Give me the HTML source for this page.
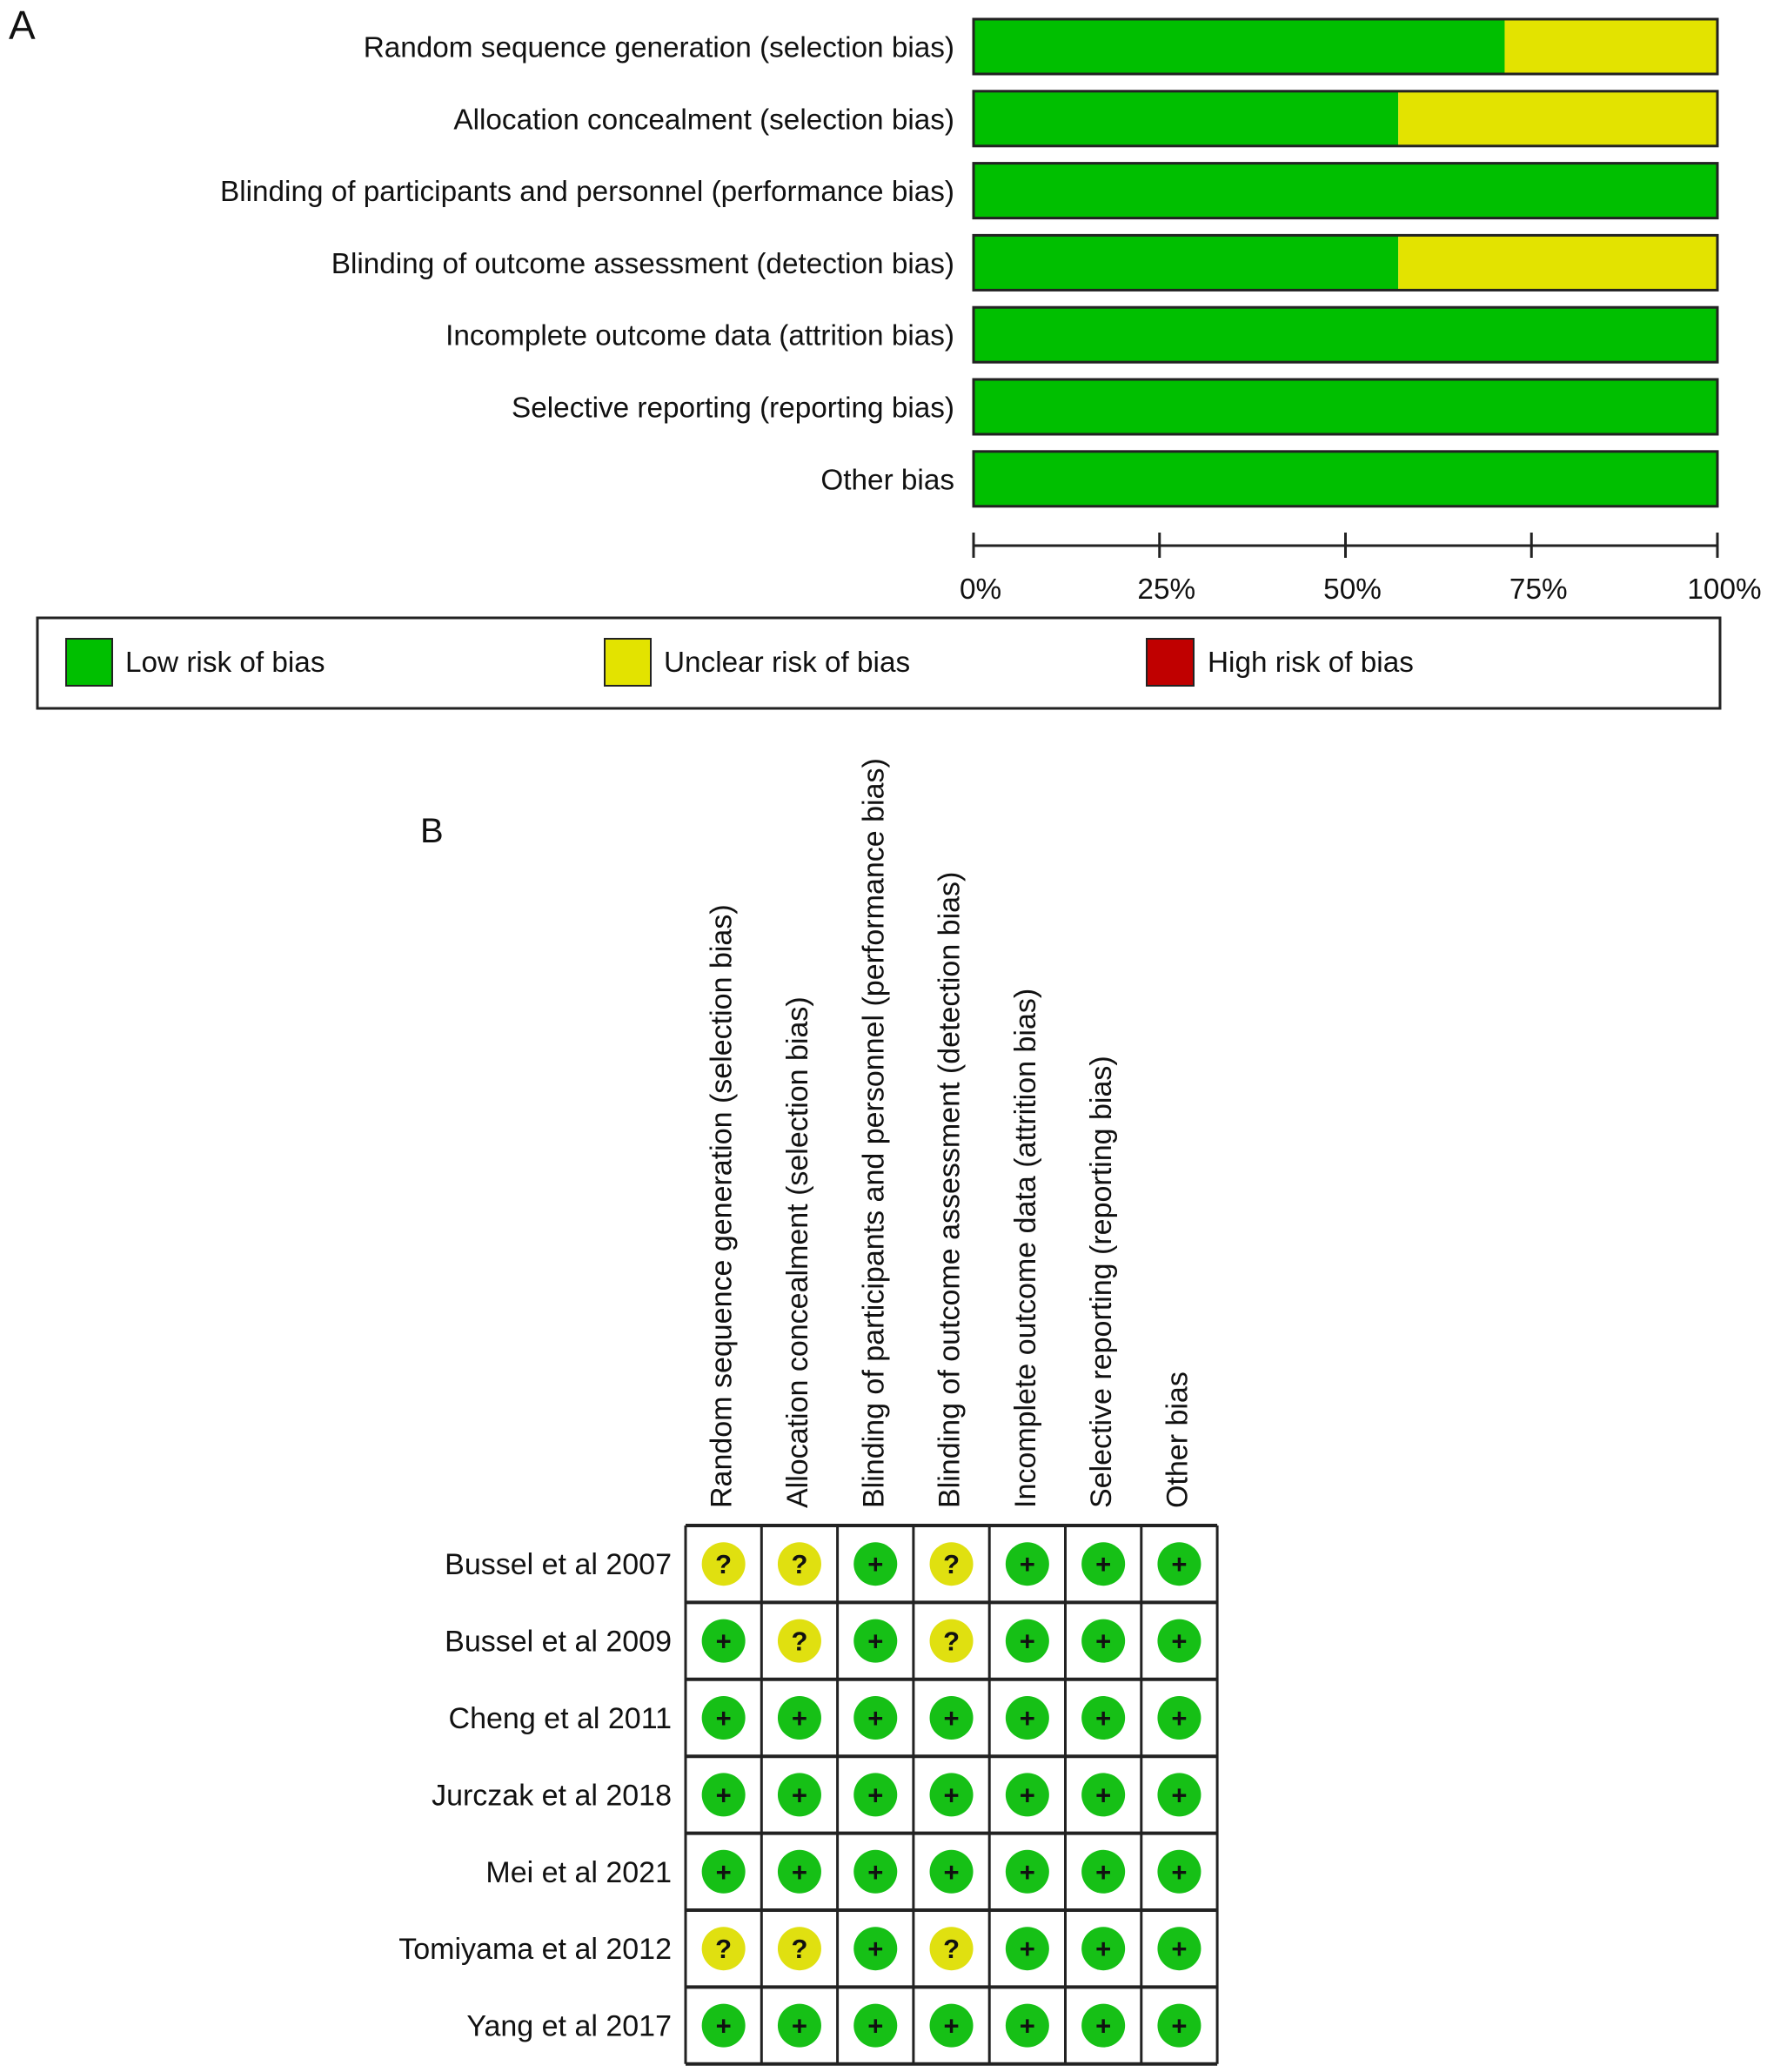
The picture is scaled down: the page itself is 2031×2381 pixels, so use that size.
<!DOCTYPE html>
<html><head><meta charset="utf-8">
<style>
html,body{margin:0;padding:0;background:#fff;}
svg{display:block;font-family:"Liberation Sans",Arial,sans-serif;}
</style></head>
<body>
<svg id="chart" width="2031" height="2381" viewBox="0 0 2031 2381" xmlns="http://www.w3.org/2000/svg">
<text x="10" y="45" font-size="46" fill="#111">A</text>
<text x="483" y="968" font-size="40" fill="#111">B</text>
<g id="barsG"></g>
<g id="axisG"></g>
<g>
<rect x="43" y="710" width="1934" height="104" fill="#fff" stroke="#222" stroke-width="3"/>
<rect x="76" y="734" width="53" height="54" fill="#00bf00" stroke="#222" stroke-width="2"/>
<text x="144" y="772" font-size="33.3" fill="#111">Low risk of bias</text>
<rect x="695" y="734" width="53" height="54" fill="#e3e300" stroke="#222" stroke-width="2"/>
<text x="763" y="772" font-size="33.3" fill="#111">Unclear risk of bias</text>
<rect x="1318" y="734" width="54" height="54" fill="#c00000" stroke="#222" stroke-width="2"/>
<text x="1388" y="772" font-size="33.3" fill="#111">High risk of bias</text>
</g>
<g id="gridG"></g>
</svg>
<script>
const domains = ["Random sequence generation (selection bias)","Allocation concealment (selection bias)","Blinding of participants and personnel (performance bias)","Blinding of outcome assessment (detection bias)","Incomplete outcome data (attrition bias)","Selective reporting (reporting bias)","Other bias"];
const lowPct = [71.4,57.1,100,57.1,100,100,100];
const unclearPct = [28.6,42.9,0,42.9,0,0,0];
const highPct = [0,0,0,0,0,0,0];
const tickLabels = ["0%","25%","50%","75%","100%"];
const tickValues = [0,25,50,75,100];
const studies = ["Bussel et al 2007","Bussel et al 2009","Cheng et al 2011","Jurczak et al 2018","Mei et al 2021","Tomiyama et al 2012","Yang et al 2017"];
const judgements = [
 ["?","?","+","?","+","+","+"],
 ["+","?","+","?","+","+","+"],
 ["+","+","+","+","+","+","+"],
 ["+","+","+","+","+","+","+"],
 ["+","+","+","+","+","+","+"],
 ["?","?","+","?","+","+","+"],
 ["+","+","+","+","+","+","+"]
];
const NS="http://www.w3.org/2000/svg";
function mk(tag,attrs,parent){const e=document.createElementNS(NS,tag);for(const k in attrs)e.setAttribute(k,attrs[k]);parent.appendChild(e);return e;}
const x0=1119,x1=1974;
const xs=v=>x0+(x1-x0)*v/100;
const barTop=i=>22+i*82.8, barH=63;
const barsG=document.getElementById('barsG');
domains.forEach((d,i)=>{
  const y=barTop(i);
  const t=mk('text',{x:1097,y:y+barH/2+12,'font-size':33.3,'text-anchor':'end',fill:'#111'},barsG);
  t.textContent=d;
  
  
  let acc=0;
  [[lowPct[i],'#00bf00','low'],[unclearPct[i],'#e3e300','unclear'],[highPct[i],'#c00000','high']].forEach(([v,c,n])=>{
    if(v>0){const r=mk('rect',{x:xs(acc),y:y,width:xs(acc+v)-xs(acc),height:barH,fill:c},barsG);
    
    }
    acc+=v;
  });
  const o=mk('rect',{x:x0,y:y,width:x1-x0,height:barH,fill:'none',stroke:'#222','stroke-width':3},barsG);
  
  
});
const axisG=document.getElementById('axisG');
mk('line',{x1:x0,x2:x1,y1:627,y2:627,stroke:'#222','stroke-width':3},axisG);
tickValues.forEach((v,i)=>{
  mk('line',{x1:xs(v),x2:xs(v),y1:612,y2:641,stroke:'#222','stroke-width':3},axisG);
  const t=mk('text',{x:xs(v)+8,y:688,'font-size':33.3,'text-anchor':'middle',fill:'#111'},axisG);
  t.textContent=tickLabels[i];
  
  
});
const gridG=document.getElementById('gridG');
const gx=788,gy=1753,cw=87.3,rh=88.4;
domains.forEach((d,j)=>{
  const cx=gx+cw*j+cw/2+9;
  const t=mk('text',{x:cx,y:1733,'font-size':34,fill:'#111',transform:'rotate(-90 '+cx+' 1733)'},gridG);
  t.textContent=d;
  
  
});
studies.forEach((s,i)=>{
  const t=mk('text',{x:772,y:gy+rh*i+rh/2+12,'font-size':34,'text-anchor':'end',fill:'#111'},gridG);
  t.textContent=s;
  
  
  judgements[i].forEach((j,k)=>{
    const cx=gx+cw*k+cw/2, cy=gy+rh*i+rh/2;
    const c=mk('circle',{cx:cx,cy:cy,r:25,fill:j==='+'?'#16c016':'#e0e010'},gridG);
    
    
    const tt=mk('text',{x:cx,y:cy+11,'font-size':31,'font-weight':'bold','text-anchor':'middle',fill:'#111'},gridG);
    tt.textContent=j;
  });
});
for(let k=0;k<=7;k++){mk('line',{x1:gx+cw*k,x2:gx+cw*k,y1:gy,y2:gy+rh*7,stroke:'#222','stroke-width':3},gridG);}
for(let i=0;i<=7;i++){mk('line',{x1:gx,x2:gx+cw*7,y1:gy+rh*i,y2:gy+rh*i,stroke:'#222','stroke-width':4},gridG);}
</script>
</body></html>
